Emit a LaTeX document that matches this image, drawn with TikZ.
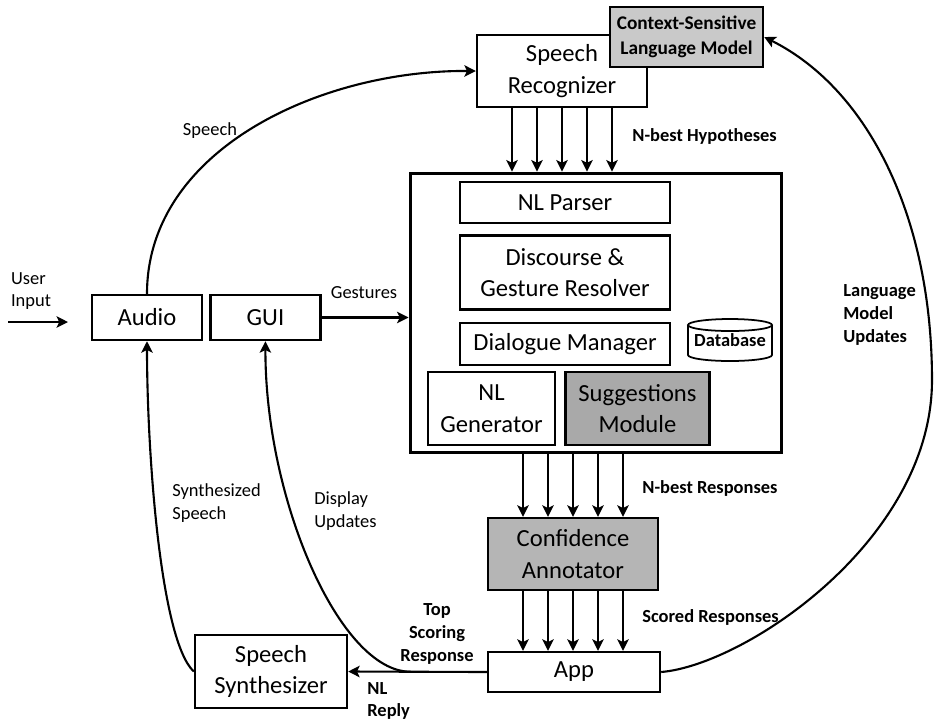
\documentclass[tikz,border=0pt]{standalone}
\usepackage{fontspec}
\setmainfont{Carlito}
\usetikzlibrary{positioning,calc,arrows.meta}
\definecolor{ctx-gray}{HTML}{C9C9C9}
\definecolor{sug-gray}{HTML}{A9A9A9}
\definecolor{conf-gray}{HTML}{B5B5B5}
\tikzset{module/.style={draw, line width=1.4pt, align=center, inner sep=0pt, font=\fontsize{14}{18}\selectfont}}
\tikzset{flow/.style={-{Stealth[length=6.5pt,width=6.5pt,inset=1.5pt]}, line width=1.2pt}}

\begin{document}
\begin{tikzpicture}[
    x=0.02cm, y=-0.02cm,           % one unit = one pixel of the sketch
    tag/.style={font=\fontsize{10.5}{13}\selectfont, align=left, inner sep=0pt},
    btag/.style={tag, font=\fontsize{10.5}{13}\selectfont\bfseries}
  ]

  \useasboundingbox (0,0) rectangle (934,725);

  % Recognizer and its language model
  \node (recog) [module, minimum width=3.4cm, minimum height=1.44cm] at (562,71) {Speech\\Recognizer};
  \node (lm) [module, fill=ctx-gray, minimum width=3.06cm, minimum height=1.2cm,
    font=\fontsize{11}{14}\selectfont\bfseries] at (686.5,37) {Context-Sensitive\\Language Model};

  % Dialogue system block
  \node (core) [module, line width=1.7pt, minimum width=7.44cm, minimum height=5.6cm] at (596,313) {};
  \node (parser) [module, minimum width=4.2cm, minimum height=0.82cm] at (565,202.5) {NL Parser};
  \node (resolver) [module, minimum width=4.2cm, minimum height=1.48cm, below=0.2cm of parser] {Discourse \&\\Gesture Resolver};
  \node (dm) [module, minimum width=4.2cm, minimum height=0.84cm, below=0.22cm of resolver] {Dialogue Manager};
  \node (nlg) [module, minimum width=2.54cm, minimum height=1.46cm] at (491.5,408.5) {NL\\Generator};
  \node (sugg) [module, fill=sug-gray, minimum width=2.88cm, minimum height=1.46cm, right=0.16cm of nlg] {Suggestions\\Module};

  % Database drum
  \node (db) [btag] at (730,340) {Database};
  \draw[line width=1pt] ([yshift=0.3cm]db.center) ellipse [x radius=0.84cm, y radius=0.12cm];
  \draw[line width=1pt] ([xshift=-0.84cm, yshift=0.3cm]db.center) -- ++(0,-0.6cm)
    arc[start angle=180, end angle=360, x radius=0.84cm, y radius=0.12cm] -- ++(0,0.6cm);

  % Scoring and output
  \node (conf) [module, fill=conf-gray, minimum width=3.4cm, minimum height=1.44cm] at (573,554) {Confidence\\Annotator};
  \node (app) [module, minimum width=3.44cm, minimum height=0.8cm] at (574,672) {App};
  \node (synth) [module, minimum width=3.04cm, minimum height=1.46cm] at (271,671.5) {Speech\\Synthesizer};

  % Input devices
  \node (audio) [module, minimum width=2.2cm, minimum height=0.9cm] at (147,317.5) {Audio};
  \node (gui) [module, minimum width=2.2cm, minimum height=0.9cm, right=0.12cm of audio] {GUI};

  % User input
  \coordinate (in0) at (8,322);
  \coordinate (in1) at (68,322);
  \draw[flow] (in0) -- (in1);
  \node (userlbl) [tag] at (31,291) {User\\Input};

  % Gestures into the block
  \draw[flow] (gui.east) -- (gui.east -| core.west);
  \node (gestlbl) [tag] at (364,293) {Gestures};

  % Bundles of hypotheses and responses
  \foreach \dx in {-50,-25,0,25,50} {
    \draw[flow] ([xshift=\dx*0.02cm]recog.south) -- ([xshift=\dx*0.02cm]recog.south |- core.north);
    \draw[flow] ([xshift=\dx*0.02cm]conf.north |- core.south) -- ([xshift=\dx*0.02cm]conf.north);
    \draw[flow] ([xshift=\dx*0.02cm]conf.south) -- ([xshift=\dx*0.02cm]conf.south |- app.north);
  }
  \node (hyplbl) [btag, anchor=west] at (632,136) {N-best Hypotheses};
  \node (resplbl) [btag, anchor=west] at (642,488) {N-best Responses};
  \node (scorelbl) [btag, anchor=west] at (642,617) {Scored Responses};

  % Speech up to the recognizer
  \draw[flow] (audio.north) .. controls (147,150) and (320,70) .. (recog.west);
  \node (speechlbl) [tag] at (210,131) {Speech};

  % Reply back to the user
  \draw[flow] (app.west) -- (synth.east);
  \path (app.west) -- (synth.east) coordinate[pos=0.55] (fork);
  \node (toplbl) [btag, align=center] at (437,634) {Top\\Scoring\\Response};
  \node (replylbl) [btag, anchor=west] at (367,701) {NL\\Reply};

  \draw[flow] (fork) .. controls (340,672) and (265,500) .. (gui.south);
  \node (displbl) [tag, anchor=west] at (314,511) {Display\\Updates};

  \draw[flow] (synth.west) .. controls (160,640) and (147,450) .. (audio.south);
  \node (synthlbl) [tag, anchor=west] at (172,503) {Synthesized\\Speech};

  % Language model feedback
  \draw[flow] (app.east) .. controls (745,665) and (932,540) .. (932,380)
    .. controls (932,220) and (870,90) .. (lm.east);
  \node (lmlbl) [btag, anchor=west] at (843,315) {Language\\Model\\Updates};

\end{tikzpicture}
\end{document}
